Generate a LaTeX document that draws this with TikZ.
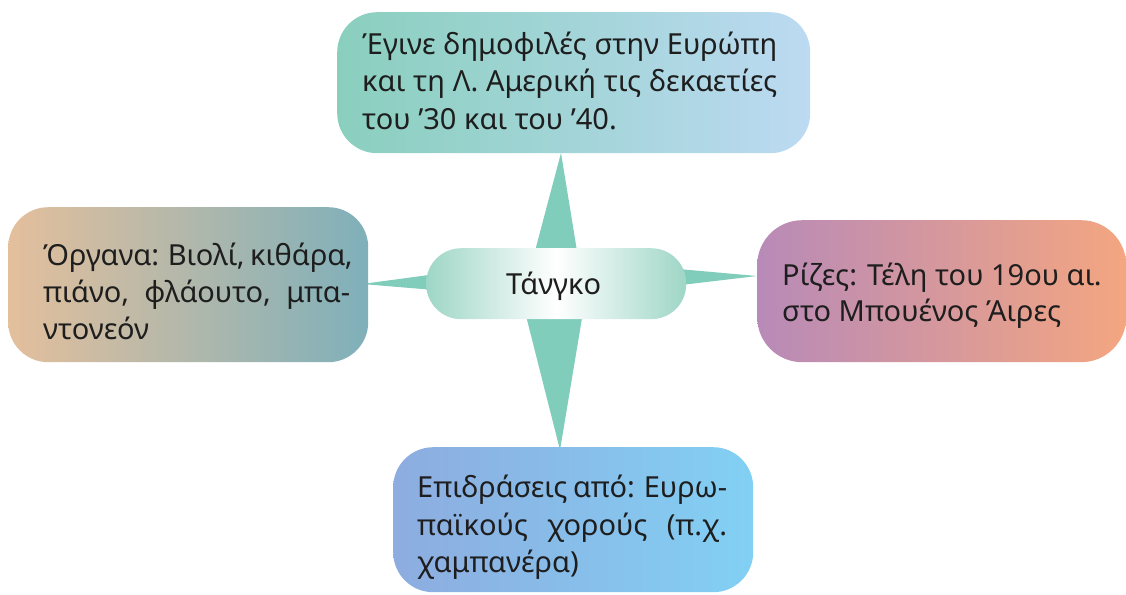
\documentclass[tikz,border=0pt]{standalone}
\usepackage{fontspec}
\setmainfont{Noto Sans}
\definecolor{arm}{HTML}{7FCDBA}
\definecolor{ink}{HTML}{1E1E1E}
\definecolor{topL}{HTML}{8ACFBE}
\definecolor{topR}{HTML}{BCDAF2}
\definecolor{lftL}{HTML}{E4BF9C}
\definecolor{lftR}{HTML}{7FB0BA}
\definecolor{rgtL}{HTML}{B88AB8}
\definecolor{rgtR}{HTML}{F4A680}
\definecolor{botL}{HTML}{8DACDF}
\definecolor{botR}{HTML}{82D0F4}
\definecolor{cen}{HTML}{9ED6C6}
\begin{document}
\begin{tikzpicture}[x=1pt,y=-1pt,
  box/.style={rectangle, rounded corners=40pt, inner sep=0pt, draw=none, anchor=north west},
  txt/.style={inner sep=0pt, anchor=base west, text=ink, font=\fontsize{29}{37}\selectfont},
  armfill/.style={fill=arm, draw=none}]
\useasboundingbox (0,0) rectangle (1126,594);
% star arms (behind)
\coordinate (vt) at (561,153);
\coordinate (vr) at (585,300);
\coordinate (vb) at (560,450);
\coordinate (vl) at (522,300);
\coordinate (hl) at (362,284);
\coordinate (ht) at (555,258);
\coordinate (hr) at (757,276);
\coordinate (hb) at (555,300);
\fill[armfill] (vt) -- (vr) -- (vb) -- (vl) -- cycle;
\fill[armfill] (hl) -- (ht) -- (hr) -- (hb) -- cycle;
% boxes
\node[box, minimum width=473pt, minimum height=141pt, left color=topL, right color=topR] (top) at (337,12) {};
\node[box, minimum width=360pt, minimum height=155pt, left color=lftL, right color=lftR] (left) at (8,207) {};
\node[box, minimum width=369pt, minimum height=142pt, rounded corners=45pt, left color=rgtL, right color=rgtR] (right) at (757,220) {};
\node[box, minimum width=360pt, minimum height=145pt, left color=botL, right color=botR] (bottom) at (393,447) {};
\node[box, minimum width=260pt, minimum height=71pt, rounded corners=35pt, left color=cen, right color=cen, middle color=white] (center) at (426,248) {};
% texts
\node[txt] (c1) at (506,294) {Τάνγκο};
\node[txt] (t1) at (362,55) {\makebox[415pt][s]{Έγινε δημοφιλές στην Ευρώπη}};
\node[txt] (t2) at (362,92) {\makebox[415pt][s]{και τη Λ. Αμερική τις δεκαετίες}};
\node[txt] (t3) at (362,129) {του ’30 και του ’40.};
\node[txt] (l1) at (43,265) {\makebox[307pt][s]{Όργανα: Βιολί, κιθάρα,}};
\node[txt] (l2) at (43,302) {\makebox[307pt][s]{πιάνο, φλάουτο, μπα-}};
\node[txt] (l3) at (43,339) {ντονεόν};
\node[txt] (r1) at (782,285) {Ρίζες: Τέλη του 19ου αι.};
\node[txt] (r2) at (782,321) {στο Μπουένος Άιρες};
\node[txt] (b1) at (417,497) {\makebox[310pt][s]{Επιδράσεις από: Ευρω-}};
\node[txt] (b2) at (417,535) {\makebox[310pt][s]{παϊκούς χορούς (π.χ.}};
\node[txt] (b3) at (417,572) {χαμπανέρα)};
\end{tikzpicture}
\end{document}
